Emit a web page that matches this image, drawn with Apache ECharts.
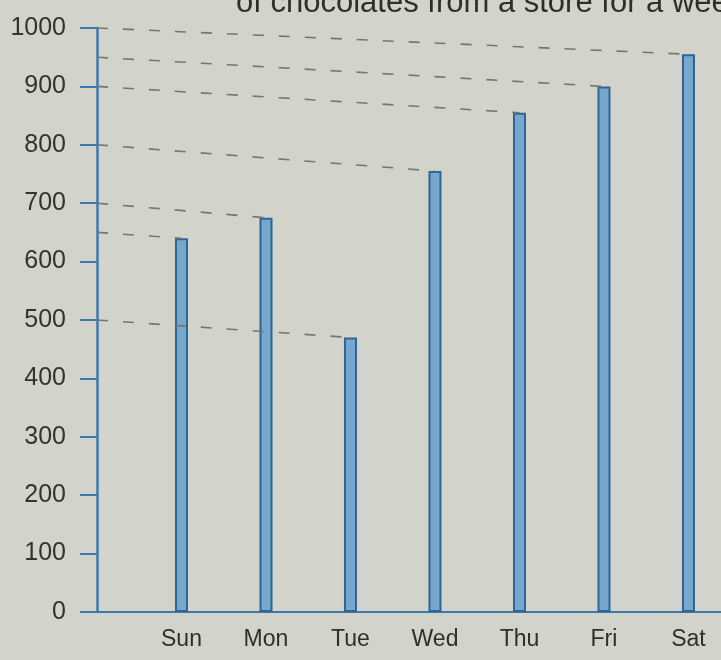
<!DOCTYPE html>
<html>
<head>
<meta charset="utf-8">
<style>
html,body{margin:0;padding:0;background:#d2d3ca;}
#chart{width:721px;height:660px;}
</style>
<script src="https://cdn.jsdelivr.net/npm/echarts@6/dist/echarts.min.js"></script>
</head>
<body>
<div id="chart"></div>
<script>
// Data
var days = ['Sun', 'Mon', 'Tue', 'Wed', 'Thu', 'Fri', 'Sat'];
var values = [640, 675, 470, 755, 855, 900, 955];
// where each hand-drawn dashed guide leaves the y-axis
var guideStart = [650, 700, 500, 800, 900, 950, 1000];
var yTicks = [0, 100, 200, 300, 400, 500, 600, 700, 800, 900, 1000];
var headingText = 'of chocolates from a store for a week';

var barData = values.map(function (v, i) { return [i + 1, v]; });
var guides = values.map(function (v, i) {
  return [{ coord: [0, guideStart[i]] }, { coord: [i + 1, v] }];
});

var chart = echarts.init(document.getElementById('chart'));
chart.setOption({
  animation: false,
  backgroundColor: '#d2d3ca',
  grid: { left: 97, right: 0, top: 28, bottom: 48, containLabel: false },
  graphic: [{
    type: 'text', left: 236, top: -12,
    style: { text: headingText, font: '31px "Liberation Sans", Arial, sans-serif', fill: '#2e2e2c' }
  }],
  xAxis: {
    type: 'value', min: 0, max: 7.385, interval: 1,
    splitLine: { show: false },
    axisLine: { show: true, lineStyle: { color: '#3b78ae', width: 2 } },
    axisTick: { show: false },
    axisLabel: {
      margin: 16, color: '#2f2f2b', fontSize: 23, fontFamily: '"Liberation Sans", Arial, sans-serif',
      formatter: function (v) { return days[v - 1] || ''; },
      showMinLabel: false, showMaxLabel: false
    }
  },
  yAxis: {
    type: 'value', min: yTicks[0], max: yTicks[yTicks.length - 1], interval: 100,
    splitLine: { show: false },
    axisLine: { show: true, lineStyle: { color: '#3b78ae', width: 2.5 } },
    axisTick: { show: true, length: 17, lineStyle: { color: '#3b78ae', width: 2 } },
    axisLabel: {
      margin: 31, color: '#33332f', fontSize: 25, fontFamily: '"Liberation Sans", Arial, sans-serif',
      formatter: function (v) { return String(v); }
    }
  },
  series: [{
    type: 'bar',
    data: barData,
    barWidth: 13,
    itemStyle: { color: '#76a8ce', borderColor: '#2e6594', borderWidth: 2 },
    markLine: {
      silent: true,
      symbol: ['none', 'none'],
      label: { show: false },
      lineStyle: { color: '#76766f', type: [11, 15], width: 1.6 },
      data: guides
    }
  }]
});
</script>
</body>
</html>
